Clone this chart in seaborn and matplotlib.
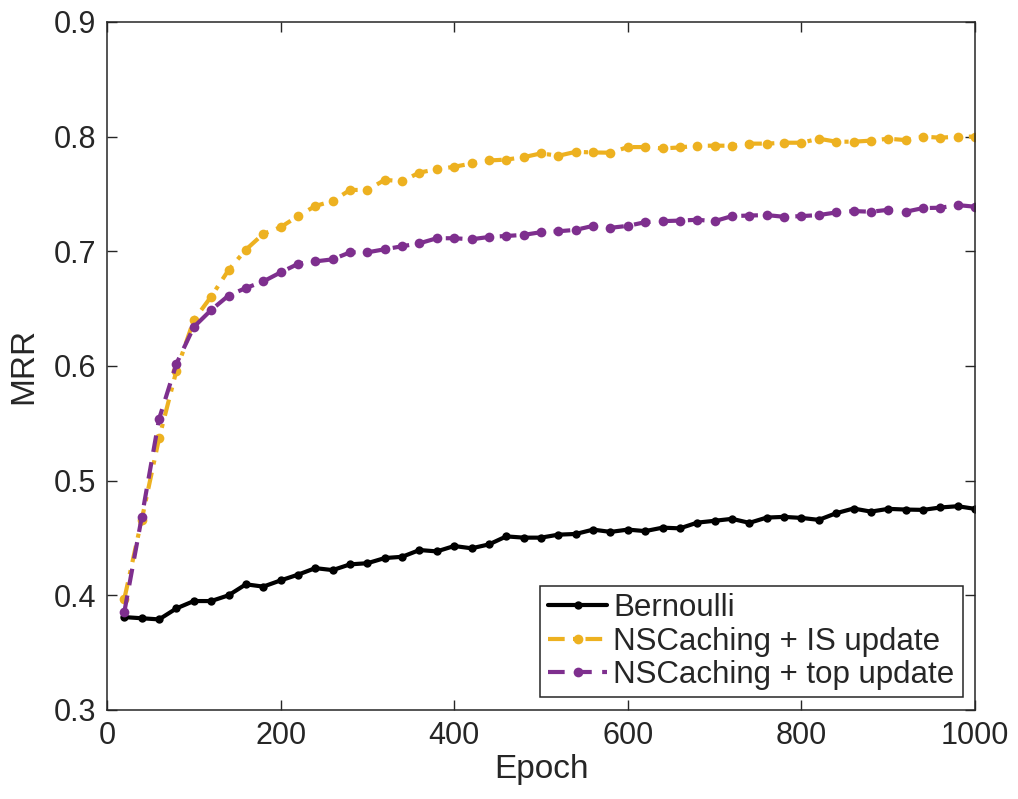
import numpy as np
import pandas as pd
import matplotlib
matplotlib.use("Agg")
import matplotlib.pyplot as plt
import seaborn as sns

epochs = list(range(20, 1001, 20))

bernoulli = [0.381, 0.380, 0.379, 0.3886, 0.395, 0.395, 0.400, 0.4096, 0.4076, 0.413,
             0.418, 0.4237, 0.422, 0.427, 0.428, 0.4325, 0.4336, 0.4395, 0.4383, 0.443,
             0.441, 0.4444, 0.4514, 0.4503, 0.4503, 0.4529, 0.4535, 0.4573, 0.4553, 0.4573,
             0.456, 0.459, 0.4584, 0.4634, 0.465, 0.4667, 0.4632, 0.4678, 0.4684, 0.4675,
             0.4658, 0.4716, 0.4757, 0.473, 0.4754, 0.4748, 0.4745, 0.4766, 0.4777, 0.4754]

is_update = [0.397, 0.466, 0.537, 0.596, 0.640, 0.6605, 0.6836, 0.7014, 0.7152, 0.721,
             0.7307, 0.7395, 0.7439, 0.7535, 0.7535, 0.7623, 0.7611, 0.7687, 0.7716, 0.7737,
             0.7766, 0.7792, 0.780, 0.7821, 0.7854, 0.7833, 0.7868, 0.7862, 0.786, 0.7909,
             0.7909, 0.7897, 0.7906, 0.7921, 0.7921, 0.7921, 0.7939, 0.7939, 0.7947, 0.7947,
             0.7982, 0.7956, 0.7956, 0.7965, 0.7982, 0.797, 0.800, 0.7991, 0.800, 0.800]

top_update = [0.3856, 0.468, 0.5538, 0.602, 0.634, 0.6488, 0.6614, 0.668, 0.6737, 0.6816,
              0.689, 0.6912, 0.693, 0.6991, 0.6991, 0.7018, 0.7044, 0.707, 0.7114, 0.7114,
              0.7105, 0.7125, 0.7134, 0.7143, 0.7167, 0.7175, 0.7187, 0.7222, 0.7205, 0.7222,
              0.7254, 0.7263, 0.7268, 0.7275, 0.7263, 0.7307, 0.7312, 0.7316, 0.7301, 0.7307,
              0.7316, 0.7339, 0.7351, 0.7345, 0.7362, 0.7345, 0.7377, 0.738, 0.7403, 0.7389]

labels = ["Bernoulli", "NSCaching + IS update", "NSCaching + top update"]
x_ticks = [0, 200, 400, 600, 800, 1000]
y_ticks = [0.3, 0.4, 0.5, 0.6, 0.7, 0.8, 0.9]

sns.set_style("white")
plt.rcParams['font.family'] = ['Liberation Sans', 'DejaVu Sans']

fig = plt.figure(figsize=(10.18, 7.99), dpi=100)
ax = fig.add_axes([0.1051, 0.1114, 0.8527, 0.8611])

styles = [
    ("black", "-", 6.0),
    ("#EDB120", (0, (4, 2, 1, 2)), 7.0),
    ("#7E2F8E", (0, (4, 2.5)), 7.0),
]
for vals, lab, (col, ls, ms) in zip([bernoulli, is_update, top_update], labels, styles):
    sns.lineplot(x=epochs, y=vals, ax=ax, color=col, linestyle=ls, linewidth=3,
                 marker="o", markersize=ms, markeredgewidth=0, label=lab)

ax.set_xlim(0, 1000)
ax.set_ylim(0.3, 0.9)
ax.set_xticks(x_ticks)
ax.set_xticklabels([str(t) for t in x_ticks])
ax.set_yticks(y_ticks)
ax.set_yticklabels([f"{t:g}" for t in y_ticks])
ax.tick_params(direction="in", length=7.5, width=1, labelsize=22, colors="#262626",
               top=True, right=True, bottom=True, left=True, pad=8)
for sp in ax.spines.values():
    sp.set_color("#262626")
    sp.set_linewidth(1.1)
ax.set_xlabel("Epoch", fontsize=24, color="#262626", labelpad=2)
ax.set_ylabel("MRR", fontsize=24, color="#262626", labelpad=10)

leg = ax.legend(loc="lower right", fontsize=22.5, frameon=True, fancybox=False,
                edgecolor="#262626", framealpha=1, borderaxespad=0.4,
                handlelength=1.9, handletextpad=0.2, labelspacing=0.1, borderpad=0.25)
leg.get_frame().set_linewidth(1.1)

fig.savefig("out.png", dpi=100)
